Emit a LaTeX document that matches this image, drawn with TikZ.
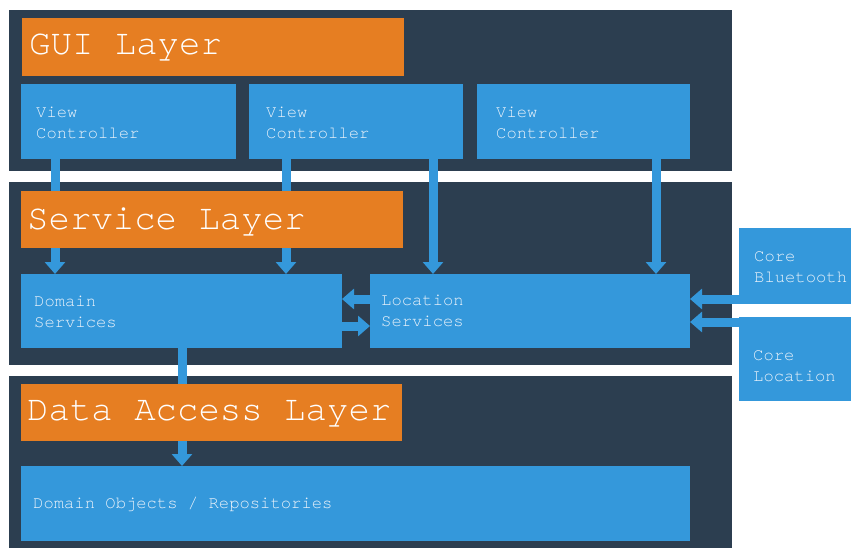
\documentclass[tikz,border=0pt]{standalone}
\usepackage{fontspec}
\setmainfont{TeX Gyre Cursor}
\usetikzlibrary{arrows.meta}
\definecolor{panel}{HTML}{2C3E50}
\definecolor{compblue}{HTML}{3498DB}
\definecolor{layerorange}{HTML}{E67E22}
\definecolor{paletext}{HTML}{EAF2FA}
\pgfdeclarelayer{back}
\pgfdeclarelayer{links}
\pgfsetlayers{back,links,main}

\begin{document}
\begin{tikzpicture}[x=1pt,y=-1pt,
  box/.style={anchor=north west, inner sep=0pt, outer sep=0pt, draw=none},
  panelbox/.style={box, fill=panel},
  comp/.style={box, fill=compblue},
  layer/.style={box, fill=layerorange},
  layertext/.style={anchor=west, inner sep=0pt, text=white, font=\fontsize{35.7}{40}\selectfont},
  comptext/.style={anchor=west, inner sep=0pt, align=left, text=paletext, font=\fontsize{17.2}{21}\selectfont},
  flow/.style={draw=compblue, line width=9pt, -{Triangle[width=20pt,length=12pt]}}
]
% canvas
\begin{pgfonlayer}{back}
\useasboundingbox[fill=white] (0,0) rectangle (851,548);

% layer panels
\node[panelbox, minimum width=723pt, minimum height=161pt] (guipanel) at (9,10) {};
\node[panelbox, minimum width=723pt, minimum height=183pt] (servpanel) at (9,182) {};
\node[panelbox, minimum width=723pt, minimum height=172pt] (datapanel) at (9,376) {};
\end{pgfonlayer}

% layer titles
\node[layer, minimum width=382pt, minimum height=58pt] (guititle) at (22,18) {};
\node[layertext] (guititletext) at (29,48) {GUI Layer};
\node[layer, minimum width=382pt, minimum height=57pt] (servtitle) at (21,191) {};
\node[layertext] (servtitletext) at (27,221.5) {Service Layer};
\node[layer, minimum width=381pt, minimum height=57pt] (datatitle) at (21,384) {};
\node[layertext] (datatitletext) at (27,414) {Data Access Layer};

% GUI components
\node[comp, minimum width=215pt, minimum height=75pt] (vc1) at (21,84) {};
\node[comptext] (vc1text) at (36,123) {View\\Controller};
\node[comp, minimum width=214pt, minimum height=75pt] (vc2) at (249,84) {};
\node[comptext] (vc2text) at (266,123) {View\\Controller};
\node[comp, minimum width=213pt, minimum height=75pt] (vc3) at (477,84) {};
\node[comptext] (vc3text) at (496,123) {View\\Controller};

% service components
\node[comp, minimum width=321pt, minimum height=74pt] (ds) at (21,274) {};
\node[comptext] (dstext) at (34,312) {Domain\\Services};
\node[comp, minimum width=320pt, minimum height=74pt] (loc) at (370,274) {};
\node[comptext] (loctext) at (381,311) {Location\\Services};

% system frameworks
\node[comp, minimum width=112pt, minimum height=76pt] (cb) at (739,228) {};
\node[comptext] (cbtext) at (754,267) {Core\\Bluetooth};
\node[comp, minimum width=112pt, minimum height=84pt] (cl) at (739,317) {};
\node[comptext] (cltext) at (753,366) {Core\\Location};

% data components
\node[comp, minimum width=669pt, minimum height=75pt] (dobj) at (21,466) {};
\node[comptext] (dobjtext) at (33,504) {Domain Objects / Repositories};

% connector lanes
\coordinate (lane1) at (55,0);
\coordinate (lane2) at (286,0);
\coordinate (lane3) at (433,0);
\coordinate (lane4) at (656,0);
\coordinate (lane5) at (182,0);
\coordinate (row1) at (0,299);
\coordinate (row2) at (0,326);
\coordinate (row3) at (0,299);
\coordinate (row4) at (0,322);

% connectors, kept beneath the title bars
\begin{pgfonlayer}{links}
\draw[flow] (lane1 |- vc1.south) -- (lane1 |- ds.north);
\draw[flow] (lane2 |- vc2.south) -- (lane2 |- ds.north);
\draw[flow] (lane3 |- vc2.south) -- (lane3 |- loc.north);
\draw[flow] (lane4 |- vc3.south) -- (lane4 |- loc.north);
\draw[flow] (loc.west |- row1) -- (ds.east |- row1);
\draw[flow] (ds.east |- row2) -- (loc.west |- row2);
\draw[flow] (cb.west |- row3) -- (loc.east |- row3);
\draw[flow] (cl.west |- row4) -- (loc.east |- row4);
\draw[flow] (lane5 |- ds.south) -- (lane5 |- dobj.north);
\end{pgfonlayer}
\end{tikzpicture}
\end{document}
